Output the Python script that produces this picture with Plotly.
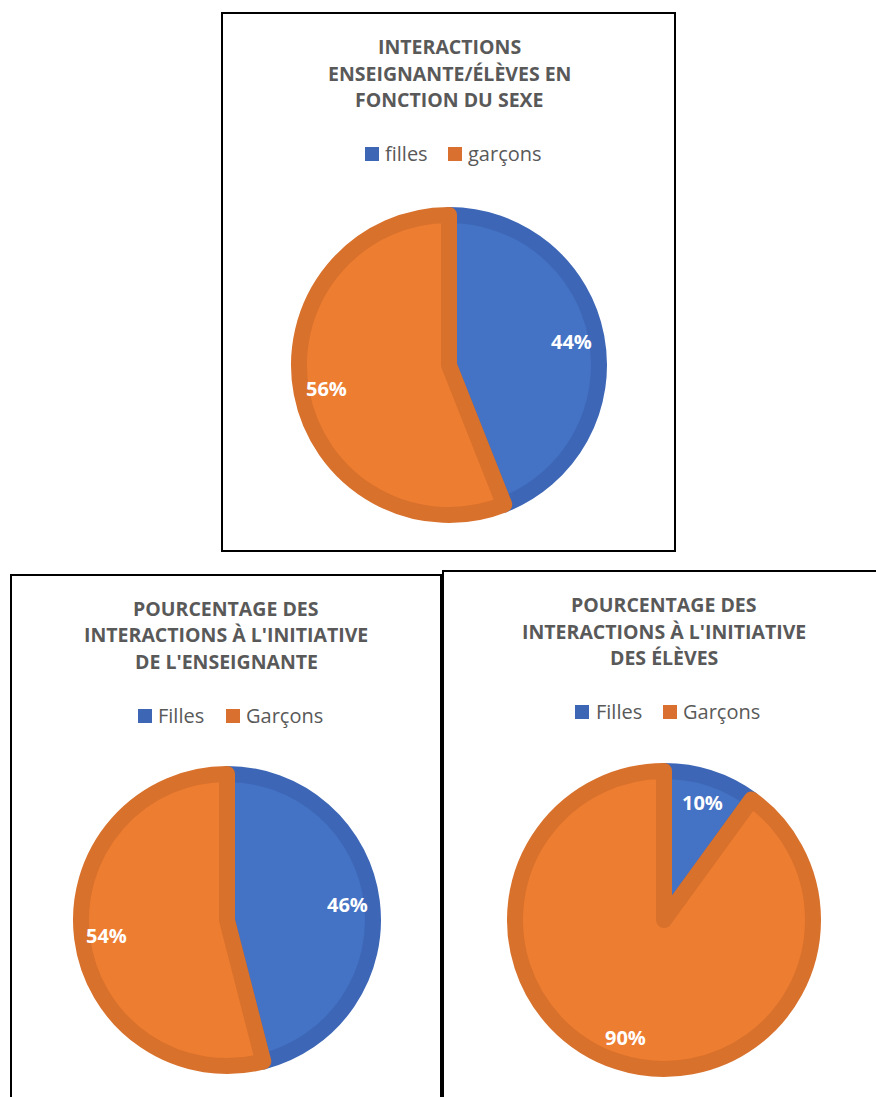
import math
import plotly.graph_objects as go

W, H = 876, 1097

# ---- data ----
titles = [
    ["INTERACTIONS", "ENSEIGNANTE/ÉLÈVES EN", "FONCTION DU SEXE"],
    ["POURCENTAGE DES", "INTERACTIONS À L'INITIATIVE", "DE L'ENSEIGNANTE"],
    ["POURCENTAGE DES", "INTERACTIONS À L'INITIATIVE", "DES ÉLÈVES"],
]
labels_sexe = ["filles", "garçons"]
labels_init = ["Filles", "Garçons"]
values_sexe = [44, 56]
values_enseignante = [46, 54]
values_eleves = [10, 90]

# ---- style ----
fill_colors = ["#4472C4", "#ED7D31"]
line_colors = ["#3D67B6", "#D8712C"]
legend_colors = ["#3D66B5", "#D97030"]
title_color = "#595959"
LW = 16
LABEL_FRAC = 0.79


def px(x):
    return x / W


def py(y):
    return 1 - y / H


charts = [
    dict(title=titles[0], labels=labels_sexe, values=values_sexe,
         center=(449, 365), r=150, box=(222, 13, 675, 551),
         title_y=[46.5, 73, 99.5], title_x=449,
         leg_y=154, leg_sq=[365, 448], leg_tx=[383, 466]),
    dict(title=titles[1], labels=labels_init, values=values_enseignante,
         center=(227, 920), r=146, box=(11, 575, 441, 1110),
         title_y=[608.5, 634.5, 661.5], title_x=226,
         leg_y=716, leg_sq=[138, 226], leg_tx=[156, 244]),
    dict(title=titles[2], labels=labels_init, values=values_eleves,
         center=(664, 920), r=149, box=(443, 571, 900, 1110),
         title_y=[604, 631, 657], title_x=664,
         leg_y=712, leg_sq=[575, 663], leg_tx=[594, 681]),
]

fig = go.Figure()
shapes = []
annotations = []

for c in charts:
    cx, cy = c["center"]
    r = c["r"]
    fig.add_trace(go.Pie(
        labels=c["labels"], values=c["values"],
        sort=False, direction="clockwise", rotation=0,
        marker=dict(colors=fill_colors, line=dict(color=line_colors, width=LW)),
        textinfo="none",
        domain=dict(x=[px(cx - r), px(cx + r)], y=[py(cy + r), py(cy - r)]),
        showlegend=False, hoverinfo="label+percent",
    ))
    # percentage labels, placed along each slice's mid angle
    total = sum(c["values"])
    cum = 0
    rl = LABEL_FRAC * (r + LW / 2)
    for v in c["values"]:
        mid = (cum + v / 2) / total * 2 * math.pi
        cum += v
        lx = cx + rl * math.sin(mid)
        ly = cy - rl * math.cos(mid)
        annotations.append(dict(text=f"{round(100 * v / total)}%", x=px(lx), y=py(ly),
                                xref="paper", yref="paper", showarrow=False,
                                xanchor="center", yanchor="middle",
                                font=dict(family="Open Sans", size=20, color="white",
                                          weight="bold")))
    x0, y0, x1, y1 = c["box"]
    shapes.append(dict(type="rect", xref="paper", yref="paper",
                       x0=px(x0), x1=px(x1), y0=py(y1), y1=py(y0),
                       line=dict(color="black", width=2), fillcolor="rgba(0,0,0,0)"))
    for line, ty in zip(c["title"], c["title_y"]):
        annotations.append(dict(text=line, x=px(c["title_x"]), y=py(ty),
                                xref="paper", yref="paper", showarrow=False,
                                xanchor="center", yanchor="middle",
                                font=dict(family="Open Sans", size=19.5, color=title_color,
                                          weight="bold")))
    for lab, col, sx, tx in zip(c["labels"], legend_colors, c["leg_sq"], c["leg_tx"]):
        ly = c["leg_y"]
        shapes.append(dict(type="rect", xref="paper", yref="paper",
                           x0=px(sx), x1=px(sx + 14), y0=py(ly + 7), y1=py(ly - 7),
                           line=dict(width=0), fillcolor=col))
        annotations.append(dict(text=lab, x=px(tx), y=py(ly - 1),
                                xref="paper", yref="paper", showarrow=False,
                                xanchor="left", yanchor="middle",
                                font=dict(family="Open Sans", size=20, color=title_color)))

fig.update_layout(
    width=W, height=H,
    margin=dict(l=0, r=0, t=0, b=0),
    paper_bgcolor="white", plot_bgcolor="white",
    shapes=shapes, annotations=annotations,
)

fig.write_html("out.html")
